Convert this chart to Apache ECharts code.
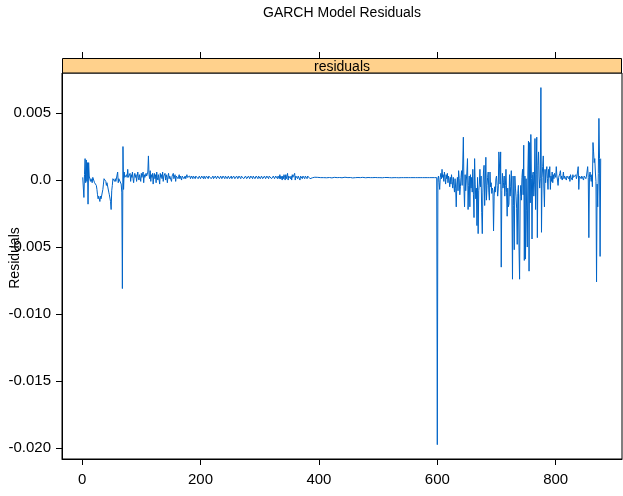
<!DOCTYPE html>
<html>
<head>
<meta charset="utf-8">
<script src="https://cdn.jsdelivr.net/npm/echarts@6/dist/echarts.min.js"></script>
<style>html,body{margin:0;padding:0;background:#fff}#c{width:623px;height:496px}</style>
</head>
<body>
<div id="c"></div>
<script>
// Observation 1..69
const early = [
.0002,.0001,-.0013,.0004,.0016,-.0002,.0015,-.0001,.0013,-.0018,
.0013,.0003,.0002,-.0001,.0001,.0001,-.0002,.0002,.0001,.0001,
-.0002,-.0001,-.0003,-.0004,-.0007,-.0011,-.0014,-.0012,-.0013,-.0016,
-.0012,-.0014,-.0013,-.0014,-.0007,-.0003,.0001,.0002,.0001,-.0001,
-.0004,-.0002,-.0001,-.0003,-.0009,-.0011,-.0012,-.0016,-.0022,-.0008,
-.0004,.0001,.0002,.0001,-.0001,.0001,-.0001,0,-.0001,.0006,
-.0002,.0001,.0002,.0002,.0001,-.0003,-.0009,-.0081,.0025
];
// 70..160
const calm1 = [
-.0007,.0006,.0002,.0003,.0001,.0004,.0002,.0008,.0002,.0001,
.0003,.0005,-.0001,.0004,.0002,.0006,.0001,-.0002,.0003,.0005,
.0002,.0004,-.0001,.0003,.0006,.0002,0,.0004,.0003,-.0001,
.0005,.0002,.0003,.0006,-.0002,.0004,.0002,.0001,.0005,.0003,
.0002,.0006,.0018,.0004,.0001,.0007,-.0001,.0004,.0002,.0005,
-.0003,.0003,.0005,.0001,.0004,-.0002,.0006,.0002,0,.0004,
.0003,-.0003,.0005,.0002,.0004,.0001,.0006,-.0001,.0003,.0002,
.0005,0,.0004,.0002,-.0002,.0003,.0005,.0001,.0003,.0002,
.0004,-.0001,.0003,.0002,.0005,.0001,.0002,.0004,-.0001,.0003,
.0002
];
// 161..385
const calm2 = [
.0003,.0001,.0002,.0004,.0001,.0003,.0002,0,.0003,.0002,
.0004,.0001,.0002,.0003,.0001,.0002,.0004,.0002,.0001,.0003,
.0002,.0003,.0001,.0002,.0003,.0002,.0001,.0003,.0002,.0002,
.0001,.0003,.0002,.0002,.0003,.0001,.0002,.0003,.0002,.0001,
.0002,.0003,.0002,.0002,.0001,.0003,.0002,.0001,.0002,.0003,
.0002,.0002,.0001,.0003,.0002,.0002,.0003,.0001,.0002,.0002,
.0003,.0001,.0002,.0002,.0003,.0002,.0001,.0002,.0003,.0002,
.0002,.0001,.0002,.0003,.0002,.0001,.0002,.0003,.0002,.0002,
.0001,.0003,.0002,.0002,.0001,.0002,.0003,.0002,.0001,.0002,
.0002,.0003,.0001,.0002,.0002,.0003,.0002,.0001,.0002,.0002,
.0003,.0002,.0001,.0002,.0003,.0002,.0002,.0001,.0003,.0002,
.0002,.0003,.0001,.0002,.0002,.0003,.0002,.0001,.0002,.0002,
.0003,.0002,.0001,.0002,.0003,.0002,.0002,.0001,.0003,.0002,
.0002,.0001,.0002,.0003,.0002,.0002,.0001,.0003,.0002,.0002,
.0001,.0002,.0003,.0002,.0001,.0002,.0002,.0003,.0002,.0001,
.0002,.0003,.0002,.0002,.0001,.0003,.0002,.0002,.0003,.0001,
.0002,.0002,.0003,.0002,.0001,.0002,.0003,.0002,.0002,.0001,
.0003,.0002,.0001,.0004,.0001,.0003,.0004,0,.0003,.0001,
.0004,.0002,0,.0004,.0001,.0003,.0005,0,.0003,.0002,
.0004,.0001,.0003,0,.0004,.0002,.0003,.0001,.0005,0,
.0003,.0002,.0004,.0001,.0003,.0002,.0004,0,.0003,.0002,
.0004,.0001,.0003,.0002,.0004,.0001,.0003,.0002,.0003,.0001,
.0003,.0002,.0002,.0003,.0001
];
// 386..555
const quiet = [
.00018,.00016,.00020,.00017,.00019,.00015,.00018,.00021,.00016,.00018,
.00019,.00017,.00020,.00016,.00018,.00019,.00017,.00018,.00020,.00016,
.00019,.00017,.00018,.00021,.00015,.00018,.00019,.00017,.00018,.00020,
.00016,.00018,.00019,.00017,.00018,.00020,.00016,.00019,.00018,.00017,
.00020,.00016,.00018,.00019,.00017,.00018,.00020,.00017,.00018,.00019,
.00016,.00018,.00020,.00017,.00018,.00019,.00016,.00018,.00021,.00017,
.00018,.00019,.00017,.00018,.00020,.00016,.00018,.00019,.00017,.00018,
.00020,.00016,.00019,.00018,.00017,.00019,.00018,.00020,.00017,.00018,
.00019,.00017,.00018,.00019,.00018,.00017,.00019,.00018,.00020,.00017,
.00018,.00019,.00018,.00017,.00019,.00018,.00018,.00019,.00017,.00018,
.00019,.00018,.00017,.00019,.00018,.00018,.00019,.00017,.00018,.00019,
.00018,.00018,.00017,.00018,.00019,.00018,.00017,.00018,.00019,.00018,
.00018,.00017,.00019,.00018,.00018,.00019,.00017,.00018,.00018,.00019,
.00018,.00017,.00018,.00018,.00019,.00018,.00018,.00017,.00018,.00019,
.00018,.00018,.00018,.00017,.00018,.00018,.00019,.00018,.00018,.00017,
.00018,.00018,.00019,.00018,.00018,.00018,.00017,.00018,.00018,.00018,
.00018,.00018,.00018,.00018,.00018,.00018,.00018,.00018,.00018,.00018
];
// 556..599
const flat = [
.00018,.00018,.00018,.00018,.00018,.00018,.00018,.00018,.00018,.00018,
.00018,.00018,.00018,.00018,.00018,.00018,.00018,.00018,.00018,.00018,
.00018,.00018,.00018,.00018,.00018,.00018,.00018,.00018,.00018,.00018,
.00018,.00018,.00018,.00018,.00018,.00018,.00018,.00018,.00018,.00018,
.00018,.00018,.00018,.00018
];
// 600
const shock = [-.01975];
// 601..876
const volatile = [
.0001,.0003,-.0002,-.0007,.0002,.0005,.0001,.0008,.0002,.0004,
-.0001,.0006,.0002,-.0003,.0004,.0001,.0005,-.0002,.0003,0,
-.0005,.0002,-.0003,.0004,-.0001,-.0006,.0002,-.0004,-.0009,.0001,
-.0006,-.002,-.0003,.0002,-.0008,.0007,.0001,-.0011,-.0005,.0002,
.0007,-.0004,.0012,.0032,-.0005,-.002,.0004,-.0008,0,.0006,
.0016,-.0022,-.0004,.0003,-.002,.0004,-.0006,.0002,-.0009,.0008,
-.0011,-.0028,.0016,-.0003,-.0014,-.0006,-.0034,.0002,-.004,-.0008,
-.0003,.0008,-.0005,.0003,-.0024,-.004,-.0009,.0006,.0011,-.0019,
-.0003,.0017,-.0015,-.0004,.0002,.0006,-.0009,-.0015,.0006,-.0005,
-.0002,-.001,-.0006,-.0008,-.0038,-.0012,-.0005,-.0009,.0001,.0003,
-.0004,-.0012,-.0006,.0021,.0012,-.0003,.0021,-.0065,-.0008,.0005,
-.0006,-.0002,.0003,-.0012,-.0004,.0008,-.0009,-.0027,-.0006,-.002,
-.0018,.0004,-.0012,-.0005,.0007,-.0014,-.0074,.0003,-.0019,-.0052,
.0003,-.0006,-.0012,-.0021,-.0048,-.001,-.0004,-.005,-.0074,-.0012,
-.0004,-.0015,.0002,.0008,-.0011,.0026,-.006,.0003,-.0059,.0001,
-.0023,-.005,.0006,.0029,-.0068,.0028,-.0017,.0034,.0001,-.0044,
.0004,.0006,-.0012,-.0003,.0031,-.0022,.0004,.0032,-.0043,.0011,
.0021,.0003,-.0006,.0001,.0069,-.0039,.0002,.001,.0018,-.0006,
-.002,.0008,-.0002,.0006,.001,.0001,-.0007,.0008,.0002,.001,
-.0007,.0003,-.0001,.0006,-.0002,.0004,.0001,.0005,.0006,.0002,
.001,.0003,0,-.0004,.0002,.0003,.0005,.0007,.0001,.0003,
0,.0002,.0006,.0001,.0003,.0002,.0004,0,.0003,.0002,
.0004,.0001,.0003,-.0001,.0004,.0002,.0003,0,.0004,.0002,
.0001,.0003,.0002,.0004,.0001,.0003,.0002,.001,-.0007,.0003,
.0002,.0004,.0001,.0003,.0002,.0004,0,.0003,.0002,.0004,
.0001,.0003,.0002,.001,.0002,-.0043,.0003,.0006,.0002,-.0001,
.0004,-.0005,.0028,.0021,.0013,.0016,.0006,-.0001,-.0076,-.0003,
-.002,.0005,.0046,.0016,-.0057,.0016
];

const xTicks = [0, 200, 400, 600, 800];
const xTickLabels = ['0', '200', '400', '600', '800'];
const yTicks = [-0.020, -0.015, -0.010, -0.005, 0, 0.005];
const yTickLabels = ['-0.020', '-0.015', '-0.010', '-0.005', '0.0', '0.005'];
const titleText = 'GARCH Model Residuals';
const stripText = 'residuals';
const yLabelText = 'Residuals';

const residuals = [].concat(early, calm1, calm2, quiet, flat, shock, volatile);
const seriesData = residuals.map((v, i) => [i + 1, v]);

const FONT = '"Liberation Sans", Arial, sans-serif';
const chart = echarts.init(document.getElementById('c'), null, {renderer: 'canvas'});

function lookup(ticks, labels, v) {
  const i = ticks.findIndex(t => Math.abs(t - v) < 1e-9);
  return i >= 0 ? labels[i] : '';
}

chart.setOption({
  animation: false,
  backgroundColor: '#fff',
  grid: {left: 62, right: 1, top: 73, bottom: 37, show: true, borderColor: '#000', borderWidth: 1, backgroundColor: 'transparent'},
  xAxis: [{
    type: 'value', position: 'bottom', min: -34, max: 912,
    axisLine: {show: true, onZero: false, lineStyle: {color: '#000', width: 1}},
    axisTick: {show: true, inside: false, length: 6, customValues: xTicks, lineStyle: {color: '#000'}},
    axisLabel: {show: true, customValues: xTicks, margin: 13, color: '#000', fontSize: 15, fontFamily: FONT,
      formatter: v => lookup(xTicks, xTickLabels, v)},
    splitLine: {show: false}
  }, {
    type: 'value', position: 'top', offset: 15, min: -34, max: 912,
    axisLine: {show: false, onZero: false},
    axisTick: {show: true, inside: false, length: 6, customValues: xTicks, lineStyle: {color: '#000'}},
    axisLabel: {show: false},
    splitLine: {show: false}
  }],
  yAxis: {
    type: 'value', min: -0.02082, max: 0.00799,
    axisLine: {show: true, onZero: false, lineStyle: {color: '#000', width: 1}},
    axisTick: {show: true, inside: false, length: 6, customValues: yTicks, lineStyle: {color: '#000'}},
    axisLabel: {show: true, customValues: yTicks, margin: 11, color: '#000', fontSize: 15, fontFamily: FONT,
      formatter: v => lookup(yTicks, yTickLabels, v)},
    splitLine: {show: false}
  },
  series: [{
    type: 'line', xAxisIndex: 0, data: seriesData, showSymbol: false, symbol: 'none',
    lineStyle: {color: '#0064C8', width: 1}, itemStyle: {color: '#0064C8'}, silent: true
  }],
  graphic: [
    {type: 'rect', shape: {x: 62.5, y: 58.5, width: 559, height: 14.5}, style: {fill: '#FFD18C', stroke: '#000', lineWidth: 1}, z: 10},
    {type: 'text', x: 342, y: 67, style: {text: stripText, fontSize: 14, fontFamily: FONT, fill: '#000', align: 'center', verticalAlign: 'middle'}, z: 11},
    {type: 'text', x: 342, y: 13, style: {text: titleText, fontSize: 14, fontFamily: FONT, fill: '#000', align: 'center', verticalAlign: 'middle'}, z: 11},
    {type: 'text', x: 15, y: 258, rotation: Math.PI / 2, style: {text: yLabelText, fontSize: 14, fontFamily: FONT, fill: '#000', align: 'center', verticalAlign: 'middle'}, z: 11}
  ]
});
</script>
</body>
</html>
